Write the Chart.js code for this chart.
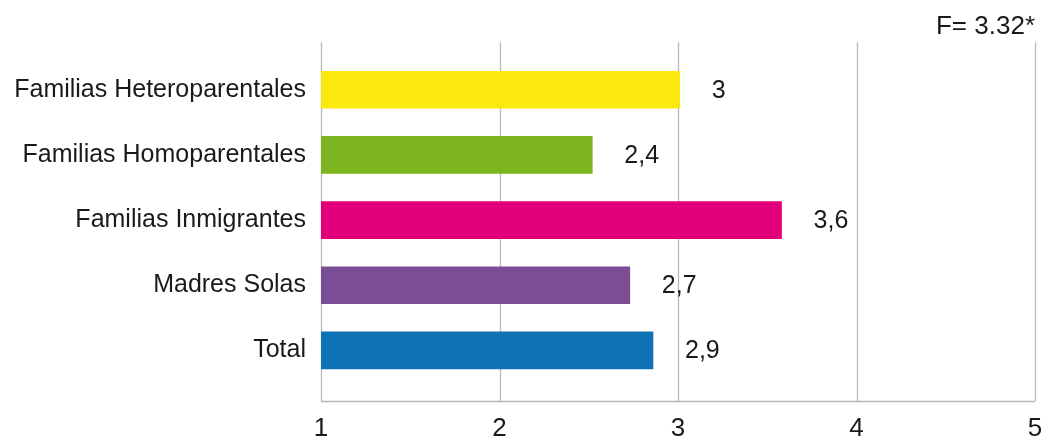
<!DOCTYPE html>
<html>
<head>
<meta charset="utf-8">
<script src="https://cdn.jsdelivr.net/npm/chart.js@4.4.1/dist/chart.umd.min.js"></script>
<style>
  html, body { margin: 0; padding: 0; background: #fff; }
  #wrap { width: 1041px; height: 439px; }
</style>
</head>
<body>
<div id="wrap"><canvas id="chart"></canvas></div>
<script>
const categories = [
  "Familias Heteroparentales",
  "Familias Homoparentales",
  "Familias Inmigrantes",
  "Madres Solas",
  "Total",
];
const values = [3.01, 2.52, 3.58, 2.73, 2.86];
const valueLabels = ["3", "2,4", "3,6", "2,7", "2,9"];
const barColors = ["#fbe90e", "#7cb51f", "#e2007a", "#7b4d94", "#0e72b5"];
const xTicks = [1, 2, 3, 4, 5];
const fTitle = "F= 3.32*";

const fontFamily = "'Liberation Sans', Arial, sans-serif";
const textColor = "#1a1a1a";
const gridColor = "#b8b8b8";

// grid lines reach a bit above and below the category band
const gridPlugin = {
  id: "gridExt",
  beforeDatasetsDraw(chart) {
    const { ctx, chartArea, scales } = chart;
    const top = chartArea.top - 15;
    const bottom = chartArea.bottom + 18;
    ctx.save();
    ctx.strokeStyle = gridColor;
    ctx.lineWidth = 1.3;
    xTicks.forEach((t) => {
      const x = Math.round(scales.x.getPixelForValue(t)) + 0.5;
      ctx.beginPath();
      ctx.moveTo(x, top);
      ctx.lineTo(x, bottom);
      ctx.stroke();
    });
    ctx.beginPath();
    ctx.moveTo(scales.x.getPixelForValue(xTicks[0]), bottom + 0.5);
    ctx.lineTo(scales.x.getPixelForValue(xTicks[xTicks.length - 1]), bottom + 0.5);
    ctx.stroke();
    ctx.restore();
  },
  afterDatasetsDraw(chart) {
    const { ctx } = chart;
    const meta = chart.getDatasetMeta(0);
    ctx.save();
    ctx.fillStyle = textColor;
    ctx.font = "25px " + fontFamily;
    ctx.textAlign = "left";
    ctx.textBaseline = "middle";
    meta.data.forEach((bar, i) => {
      ctx.fillText(valueLabels[i], bar.x + 32, bar.y + 1);
    });
    ctx.restore();
  },
};

new Chart(document.getElementById("chart"), {
  type: "bar",
  data: {
    labels: categories,
    datasets: [{
      data: values,
      backgroundColor: barColors,
      borderWidth: 0,
      barThickness: 37,
    }],
  },
  options: {
    indexAxis: "y",
    responsive: true,
    maintainAspectRatio: false,
    animation: false,
    layout: { padding: { left: 0, right: 6, top: 0, bottom: 0 } },
    plugins: {
      legend: { display: false },
      tooltip: { enabled: false },
      title: {
        display: true,
        text: fTitle,
        align: "end",
        color: textColor,
        font: { family: fontFamily, size: 26, weight: "normal" },
        padding: { top: 11, bottom: 15 },
      },
    },
    scales: {
      x: {
        type: "linear",
        min: 1,
        max: 5,
        afterBuildTicks: (s) => { s.ticks = xTicks.map((v) => ({ value: v })); },
        afterFit: (s) => { s.height = 56; s.paddingLeft = 0; s.paddingRight = 0; },
        grid: { display: false, drawTicks: false },
        border: { display: false },
        ticks: {
          color: textColor,
          font: { family: fontFamily, size: 26 },
          padding: 30,
          maxRotation: 0,
        },
      },
      y: {
        afterFit: (s) => { s.width = 321; },
        grid: { display: false, drawTicks: false },
        border: { display: false },
        ticks: {
          color: textColor,
          font: { family: fontFamily, size: 25 },
          padding: 15,
        },
      },
    },
  },
  plugins: [gridPlugin],
});
</script>
</body>
</html>
